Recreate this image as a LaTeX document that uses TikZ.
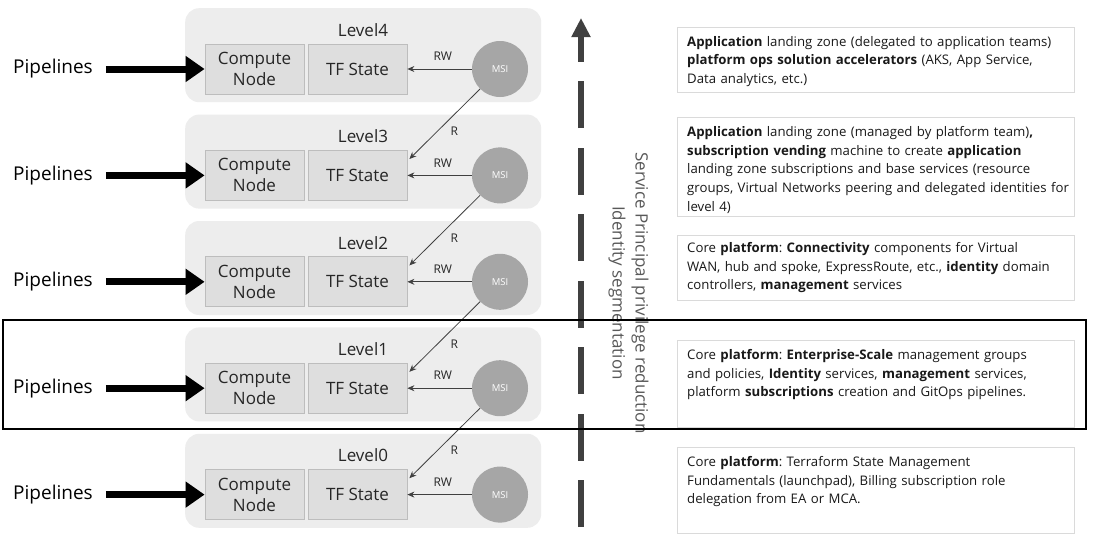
\documentclass[tikz,border=0pt]{standalone}
\usepackage{fontspec}
\setmainfont{Open Sans}
\usetikzlibrary{arrows.meta,calc}
\frenchspacing
\definecolor{lvlbg}{HTML}{EDEDED}
\definecolor{boxbg}{HTML}{DEDEDE}
\definecolor{boxln}{HTML}{BDBDBD}
\definecolor{msibg}{HTML}{A6A6A6}
\definecolor{arrln}{HTML}{404040}
\definecolor{descln}{HTML}{DADADA}
\definecolor{rottxt}{HTML}{595959}
\begin{document}
\begin{tikzpicture}[x=1pt,y=-1pt,
 lvlbox/.style={rectangle, rounded corners=14pt, fill=lvlbg, minimum width=356pt, minimum height=94pt, anchor=north west, inner sep=0},
 cbox/.style={rectangle, fill=boxbg, draw=boxln, line width=0.8pt, minimum width=99pt, minimum height=50pt, inner sep=0, align=center, font=\fontsize{17}{21}\selectfont, text=black!85},
 msinode/.style={circle, fill=msibg, minimum size=56pt, inner sep=0, text=white, font=\fontsize{9.5}{10}\selectfont},
 lvllab/.style={font=\fontsize{17}{20}\selectfont, inner sep=0, text=black!85},
 piplab/.style={font=\fontsize{19}{22}\selectfont, inner sep=0, text=black},
 pipearrow/.style={line width=7pt, -{Triangle[length=19pt,width=25pt]}, shorten <=13pt},
 thinarrow/.style={draw=arrln, line width=0.8pt, -{Stealth[length=7pt,width=6pt]}},
 conlab/.style={font=\fontsize{12}{14}\selectfont, inner sep=0, text=black!85},
 descbox/.style={rectangle, draw=descln, line width=0.8pt, fill=white, anchor=north west, inner sep=0, minimum width=397pt},
 desctext/.style={anchor=north west, inner sep=0, align=left, text width=420pt, font=\fontsize{13.2}{18.7}\selectfont, text=black!90},
 dasharrow/.style={draw=arrln, line width=6pt, dash pattern=on 47pt off 19.5pt, -{Triangle[length=19pt,width=18pt]}},
 hlbox/.style={rectangle, draw=black, line width=2.2pt, anchor=north west, inner sep=0, minimum width=1083pt, minimum height=109pt},
 rotlab/.style={rotate=-90, align=center, font=\fontsize{17}{23}\selectfont, text=rottxt, inner sep=0}
]
\useasboundingbox (0,0) rectangle (1115,541);
\fill[white] (0,0) rectangle (1115,541);

\foreach \k/\T in {4/8, 3/114.4, 2/220.8, 1/327.2, 0/433.6}{
  \node[lvlbox] (lvl\k) at (185,\T) {};
  \node[lvllab] (lab\k) at (363,\T+22) {Level\k};
  \node[cbox] (cn\k) at (254.5,\T+61) {Compute\\Node};
  \node[cbox] (tf\k) at (357.5,\T+61) {TF State};
  \node[msinode] (msi\k) at (500,\T+61) {MSI};
  \node[piplab] (pip\k) at (53,\T+61) {Pipelines};
  \draw[pipearrow] (pip\k.east) -- (cn\k.west);
  \draw[thinarrow] (msi\k) -- node[conlab, pos=0.45, above=8pt] {RW} (tf\k);
}
\foreach \a/\b in {4/3,3/2,2/1,1/0}{
  \draw[thinarrow] (msi\a.south west) -- node[conlab, pos=0.5, xshift=9.5pt, yshift=-7.5pt] {R} ($(tf\b.north east)+(2,9)$);
}

\node[descbox, minimum height=65pt] (d4) at (677,27) {};
\node[desctext] (t4) at (687,36) {\textbf{Application} landing zone (delegated to application teams)\\\textbf{platform ops solution accelerators} (AKS, App Service,\\Data analytics, etc.)};
\node[descbox, minimum height=99pt] (d3) at (677,117) {};
\node[desctext] (t3) at (687,126) {\textbf{Application} landing zone (managed by platform team)\textbf{,}\\\textbf{subscription vending} machine to create \textbf{application}\\landing zone subscriptions and base services (resource\\groups, Virtual Networks peering and delegated identities for\\level 4)};
\node[descbox, minimum height=65pt] (d2) at (677,235) {};
\node[desctext] (t2) at (687,242) {Core \textbf{platform}: \textbf{Connectivity} components for Virtual\\WAN, hub and spoke, ExpressRoute, etc., \textbf{identity} domain\\controllers, \textbf{management} services};
\node[descbox, minimum height=87pt] (d1) at (677,340) {};
\node[desctext] (t1) at (687,349) {Core \textbf{platform}: \textbf{Enterprise-Scale} management groups\\and policies, \textbf{Identity} services, \textbf{management} services,\\platform \textbf{subscriptions} creation and GitOps pipelines.};
\node[descbox, minimum height=86pt] (d0) at (677,447) {};
\node[desctext] (t0) at (687,456) {Core \textbf{platform}: Terraform State Management\\Fundamentals (launchpad), Billing subscription role\\delegation from EA or MCA.};

\coordinate (dbot) at (581,527);
\coordinate (dtop) at (581,18);
\draw[dasharrow] (dbot) -- (dtop);
\node[rotlab] (rot) at (628.5,293) {Service Principal privilege reduction\\Identity segmentation};

\node[hlbox] (hl) at (2,319) {};
\end{tikzpicture}
\end{document}
